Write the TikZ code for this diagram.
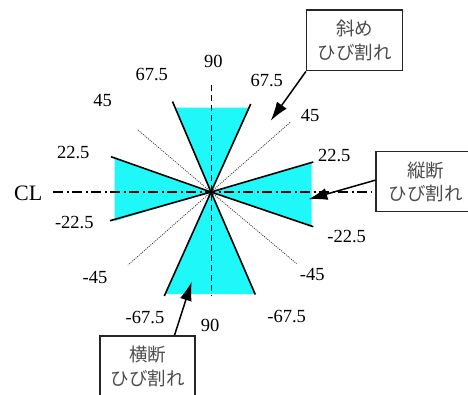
\documentclass[tikz,border=0pt]{standalone}
\usepackage{fontspec}
\setmainfont{Liberation Serif}
\newfontfamily\jp{Noto Sans CJK JP}
\usetikzlibrary{arrows.meta}
\definecolor{crackfill}{RGB}{30,248,248}
\begin{document}
\begin{tikzpicture}[x=1pt,y=-1pt,
  num/.style={font=\fontsize{18.5}{20}\selectfont, inner sep=0pt},
  crack/.style={line width=1.6pt, black},
  diagline/.style={line width=0.8pt, black!80, dash pattern=on 1pt off 1.2pt},
  box/.style={draw=black!85, line width=1.5pt, fill=white, align=center,
    font=\jp\fontsize{18.5}{23.5}\selectfont, text=black!70, inner sep=0pt},
  arr/.style={line width=1.5pt, -{Latex[length=19pt,width=12pt]}}
]
\useasboundingbox (0,0) rectangle (468,394);
\coordinate (c) at (211,192);
% cyan sectors
\fill[crackfill] (c) -- (175.5,107.5) -- (249,107.5) -- cycle;
\fill[crackfill] (c) -- (166,294) -- (255,294) -- cycle;
\fill[crackfill] (c) -- (114.5,157.5) -- (114.5,221) -- cycle;
\fill[crackfill] (c) -- (311.5,163) -- (311.5,226) -- cycle;
% dotted 45 degree lines
\coordinate (d1) at (138,130);
\coordinate (d2) at (290,122.5);
\coordinate (d3) at (128,265);
\coordinate (d4) at (296.5,263.5);
\draw[diagline] (d1) -- (c) -- (d4);
\draw[diagline] (d2) -- (c) -- (d3);
% center lines
\coordinate (clL) at (53,192);
\coordinate (clR) at (372,192);
\draw[line width=1.3pt, dash pattern=on 10pt off 3.5pt on 2pt off 3.5pt] (clL) -- (clR);
\coordinate (vT) at (211.5,85);
\coordinate (vB) at (211.5,296);
\draw[line width=1.3pt, dash pattern=on 6pt off 4pt] (vT) -- (vB);
% crack lines
\coordinate (s1) at (172.5,101.5);
\coordinate (s2) at (250.7,104);
\coordinate (s3) at (164.3,296);
\coordinate (s4) at (255.3,294.5);
\coordinate (s5) at (111,156.7);
\coordinate (s6) at (110,220.7);
\coordinate (s7) at (313.3,162);
\coordinate (s8) at (313.3,226.7);
\draw[crack] (s1) -- (c) -- (s4);
\draw[crack] (s2) -- (c) -- (s3);
\draw[crack] (s5) -- (c) -- (s8);
\draw[crack] (s6) -- (c) -- (s7);
\fill (c) circle (1.8pt);
% labels
\node[num] (t90) at (213.3,61.7) {90};
\node[num] (b90) at (210,325) {90};
\node[num] (p675l) at (151.7,75) {67.5};
\node[num] (p675r) at (266.7,81) {67.5};
\node[num] (p45l) at (102.7,100.7) {45};
\node[num] (p45r) at (310,115) {45};
\node[num] (p225l) at (73.3,152.3) {22.5};
\node[num] (p225r) at (334.3,155.7) {22.5};
\node[num] (m225l) at (74.3,222.3) {-22.5};
\node[num] (m225r) at (346.7,236.7) {-22.5};
\node[num] (m45l) at (95,277.3) {-45};
\node[num] (m45r) at (312.3,274) {-45};
\node[num] (m675l) at (145,317.7) {-67.5};
\node[num] (m675r) at (286.7,316.7) {-67.5};
\node[inner sep=0pt, font=\fontsize{22}{24}\selectfont] (cl) at (28.3,193) {CL};
% boxes
\node[box, minimum width=96pt, minimum height=60.7pt] (diag) at (354.7,40.3) {斜め\\ひび割れ};
\node[box, minimum width=99pt, minimum height=60pt] (vert) at (425.5,181.7) {縦断\\ひび割れ};
\node[box, minimum width=95pt, minimum height=61pt] (hori) at (147.5,366.5) {横断\\ひび割れ};
% arrows
\coordinate (tipA) at (270.7,120.7);
\coordinate (tipB) at (308.3,199.3);
\coordinate (tipC) at (191.7,281.7);
\draw[arr] (diag.south west) -- (tipA);
\draw[arr] ([yshift=1.5pt]vert.west) -- (tipB);
\draw[arr] ([xshift=27pt]hori.north) -- (tipC);
\end{tikzpicture}
\end{document}
